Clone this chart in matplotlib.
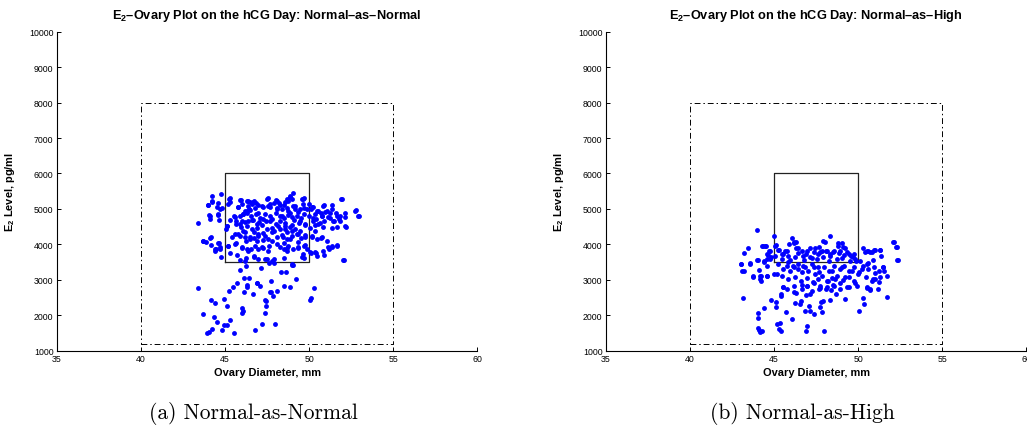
import matplotlib
matplotlib.use("Agg")
import matplotlib.pyplot as plt
import numpy as np

plt.rcParams["font.family"] = ["Liberation Sans", "DejaVu Sans"]
plt.rcParams["mathtext.fontset"] = "custom"
plt.rcParams["mathtext.rm"] = "Liberation Sans:bold"
plt.rcParams["mathtext.bf"] = "Liberation Sans:bold"

# (ovary diameter mm, E2 pg/ml)
normal_as_normal = [
    # left of the box
    (44.20, 5351), (44.78, 5417), (44.24, 5192), (43.98, 5098), (44.56, 5173), (44.80, 5013),
    (44.06, 4834), (44.10, 4703), (44.60, 4834), (44.66, 4684), (43.37, 4609), (43.67, 4082),
    (43.84, 4054), (44.12, 4176), (44.62, 4045), (44.18, 3979), (44.46, 3857), (44.42, 3810),
    (44.72, 3876), (44.74, 3650), (45.16, 3951), (45.24, 5267), (45.10, 4515), (45.08, 4440),
    (44.21, 5214), (44.01, 5120), (44.50, 5064), (44.70, 4998), (44.11, 4810), (44.60, 4857),
    (43.71, 4086), (44.17, 4199), (44.60, 4030), (44.40, 3870), (44.70, 3936),
    # lower tail
    (43.39, 2773), (44.19, 2443), (44.38, 2349), (43.71, 2028), (44.94, 2462), (45.10, 2254),
    (45.24, 2688), (45.50, 2801), (45.71, 2914), (46.11, 2650), (46.33, 2858), (46.33, 2792),
    (46.65, 2603), (46.90, 2914), (47.10, 2820), (47.38, 2443), (47.46, 2396), (47.44, 2273),
    (47.36, 2056), (47.72, 2650), (47.88, 2556), (47.66, 2669), (47.76, 2980), (48.12, 2697),
    (48.51, 2820), (48.87, 2801), (49.25, 3027), (50.06, 2433), (50.14, 2480), (50.28, 2773),
    (44.37, 1952), (44.54, 1802), (44.96, 1726), (45.12, 1726), (45.30, 1858), (44.80, 1585),
    (44.21, 1613), (43.93, 1490), (44.07, 1519), (45.52, 1500), (45.99, 2066), (46.07, 2122),
    (46.01, 2198), (46.77, 1575), (47.22, 1764), (47.96, 1754),
    (45.90, 3283), (46.24, 3387), (46.43, 3039), (47.15, 3340), (48.33, 3218), (48.63, 3227),
    (49.00, 3415), (49.04, 3424), (47.94, 3481), (47.62, 3462), (46.12, 3039), (46.89, 2917),
    # main cluster
    (49.04, 5436), (48.84, 5361), (48.69, 5286), (48.98, 5267), (48.76, 5220), (49.62, 5267),
    (49.72, 5295), (48.03, 5248), (48.11, 5220), (47.57, 5314), (46.71, 5220), (46.51, 5192),
    (46.33, 5220), (45.96, 5248), (51.93, 5267), (50.88, 5098), (51.39, 5117), (50.02, 5145),
    (50.24, 5060), (46.61, 5126), (46.85, 5154), (46.99, 5098), (46.39, 5079), (46.45, 4985),
    (46.20, 4938), (47.29, 5060), (47.53, 5079), (47.69, 5126), (47.89, 5154), (48.21, 5173),
    (48.49, 5098), (48.69, 5032), (49.06, 5079), (49.18, 4985), (49.48, 5004), (49.68, 5032),
    (49.88, 5004), (50.14, 4985), (50.48, 4938), (50.74, 4891), (51.08, 4938), (51.27, 4891),
    (51.61, 4872), (51.83, 4797), (52.17, 4891), (52.77, 4957), (52.97, 4797), (48.09, 5032),
    (48.39, 4985), (45.80, 5060), (45.54, 4797), (45.90, 4797), (46.10, 4844), (46.29, 4872),
    (46.53, 4797), (46.85, 4844), (47.09, 4750), (47.39, 4844), (47.65, 4797), (47.79, 4703),
    (48.01, 4872), (48.25, 4797), (48.49, 4750), (48.73, 4816), (48.88, 4891), (49.28, 4797),
    (49.52, 4750), (49.68, 4844), (49.98, 4797), (50.24, 4750), (50.44, 4703), (50.78, 4797),
    (50.92, 4656), (51.24, 4750), (51.51, 4656), (51.77, 4703), (45.66, 4656), (45.30, 4684),
    (46.00, 4656), (46.39, 4656), (46.65, 4684), (47.05, 4628), (47.45, 4656), (48.29, 4656),
    (48.59, 4609), (49.08, 4684), (49.38, 4609), (45.66, 4562), (45.94, 4496), (46.29, 4515),
    (46.59, 4421), (46.89, 4468), (47.19, 4534), (47.49, 4421), (47.79, 4468), (48.05, 4562),
    (48.29, 4421), (48.59, 4515), (48.88, 4496), (49.18, 4440), (49.48, 4374), (49.78, 4534),
    (50.08, 4468), (50.38, 4534), (50.64, 4590), (50.84, 4496), (51.39, 4459), (52.19, 4487),
    (46.10, 4374), (46.73, 4346), (47.29, 4327), (47.89, 4374), (48.69, 4346), (48.98, 4534),
    (45.62, 4280), (45.90, 4233), (46.20, 4214), (46.49, 4158), (46.73, 4186), (46.99, 4233),
    (47.25, 4120), (47.53, 4158), (47.79, 4092), (48.09, 4214), (48.39, 4252), (48.69, 4139),
    (48.98, 4233), (49.28, 4280), (49.52, 4186), (49.78, 4252), (50.18, 4214), (50.48, 4158),
    (50.72, 4186), (51.08, 4092), (46.25, 4092), (46.89, 4092), (48.49, 4045), (45.66, 4026),
    (46.00, 3932), (46.33, 3876), (46.53, 3857), (46.99, 3876), (47.29, 3904), (47.59, 3951),
    (48.09, 3998), (48.53, 3876), (48.69, 3904), (49.02, 3876), (49.32, 3885), (49.68, 3951),
    (49.78, 3970), (49.88, 3876), (50.44, 3763), (50.88, 3688), (51.18, 3857), (51.37, 3932),
    (51.67, 3951), (52.07, 3547), (45.90, 3556), (46.20, 3528), (46.73, 3650), (46.99, 3575),
    (47.39, 3575), (47.79, 3528), (47.93, 3594), (48.49, 3622), (48.98, 3434), (49.58, 3650),
    (49.72, 3622), (50.12, 3744), (45.30, 3744), (45.70, 3697),
    (45.10, 4528), (45.16, 3964), (45.16, 5139), (45.30, 5308), (45.30, 5186), (45.79, 5064),
    (45.99, 5139), (45.89, 5252), (46.39, 5233), (46.69, 5186), (46.09, 4857), (46.29, 4932),
    (46.49, 4970), (46.78, 5026), (46.98, 4876), (47.18, 5092), (47.48, 5280), (47.68, 5045),
    (45.60, 4763), (45.89, 4575), (46.19, 4622), (46.59, 4688), (46.88, 4575), (47.28, 4716),
    (47.68, 4669), (45.79, 4293), (46.19, 4340), (46.49, 4199), (46.98, 4293), (47.38, 4246),
    (47.78, 4340), (45.60, 4011), (45.99, 3898), (46.39, 3823), (46.78, 3964), (47.18, 3917),
    (47.58, 3823), (45.40, 4199), (46.23, 3616), (46.74, 3682), (47.48, 3588),
    (48.87, 5327), (48.57, 5186), (48.27, 5120), (48.08, 4998), (49.56, 5280), (49.66, 5139),
    (49.17, 5092), (48.77, 4951), (49.37, 4904), (48.37, 4810), (48.97, 4763), (49.47, 4669),
    (49.77, 4575), (48.17, 4528), (48.57, 4434), (48.97, 4387), (49.37, 4293), (48.47, 4199),
    (48.87, 4152), (49.37, 4058), (49.77, 4199), (48.27, 3917), (48.77, 3964), (48.67, 3823),
    (49.37, 3917), (49.67, 3729), (50.16, 5045), (50.36, 4857), (50.56, 4951), (50.76, 4810),
    (50.95, 4904), (51.15, 4763), (50.86, 5092), (51.35, 4998), (51.65, 4810), (51.84, 4669),
    (51.94, 5280), (52.14, 4763), (52.73, 4951), (52.93, 4810), (50.26, 4669), (50.56, 4575),
    (50.36, 4387), (50.76, 4199), (50.16, 4246), (51.45, 4669), (51.65, 4481), (52.14, 4509),
    (51.15, 3917), (51.35, 3964), (51.65, 3992), (50.86, 3804), (50.36, 3776), (50.06, 3776),
    (52.04, 3560), (50.46, 3682),
]

normal_as_high = [
    # lower part
    (44.21, 2980), (43.16, 2481), (44.02, 2066), (44.02, 1915), (44.43, 2198), (44.02, 1632),
    (44.13, 1594), (44.17, 1519), (44.31, 1547), (44.81, 2433), (45.13, 2367), (45.09, 2226),
    (45.19, 1754), (45.37, 1773), (45.31, 1613), (45.41, 1566), (45.43, 2556), (45.43, 2603),
    (45.72, 2085), (46.06, 1896), (46.26, 2349), (46.60, 2414), (46.56, 2320), (46.85, 2132),
    (46.89, 2584), (46.99, 1707), (46.91, 1547), (47.07, 2273), (47.15, 2132), (47.35, 2037),
    (47.15, 2603), (47.71, 2226), (47.85, 2085), (47.81, 2367), (47.89, 2414), (47.99, 1566),
    (48.31, 2443), (48.41, 2726), (48.71, 2603), (49.22, 2462), (50.03, 2113), (50.27, 2490),
    (50.33, 2320), (50.53, 2763), (50.69, 2745), (51.19, 2745), (51.75, 2528), (45.56, 2792),
    (45.76, 2745), (46.16, 2669), (46.32, 2631), (46.66, 2867), (46.95, 2839), (47.35, 2914),
    (47.65, 2745), (47.75, 2820), (48.11, 2745), (48.48, 2858), (48.94, 2914), (49.44, 2792),
    (49.83, 2914), (50.83, 2980),
    # upper part
    (43.98, 4414), (45.02, 4226), (46.04, 4179), (46.31, 4076), (46.16, 4057), (45.90, 4010),
    (48.31, 4226), (48.03, 4076), (48.78, 4038), (49.08, 3916), (52.13, 4057), (52.29, 3916),
    (52.35, 3559), (51.33, 3841), (50.99, 3841), (50.60, 3822), (50.84, 3775), (50.40, 3775),
    (43.45, 3888), (43.23, 3756), (43.01, 3446), (43.21, 3258), (43.55, 3465), (43.98, 3559),
    (44.30, 3963), (44.44, 3963), (44.60, 3728), (44.72, 3822), (44.76, 3587), (44.42, 3493),
    (44.56, 3399), (44.08, 3286), (44.20, 3117), (43.76, 3098), (44.60, 3098), (45.04, 3963),
    (45.28, 3850), (45.56, 3728), (45.76, 3822), (46.41, 3888), (46.65, 3822), (46.91, 3728),
    (47.15, 3888), (47.39, 3775), (47.65, 3916), (47.75, 3775), (48.11, 3822), (48.35, 3728),
    (48.59, 3822), (48.84, 3756), (49.14, 3700), (49.34, 3775), (49.58, 3681), (49.78, 3728),
    (45.46, 3587), (45.96, 3568), (46.25, 3634), (46.79, 3568), (47.25, 3606), (47.55, 3587),
    (47.91, 3634), (48.25, 3540), (48.75, 3587), (49.04, 3606), (49.50, 3540), (49.84, 3587),
    (50.14, 3540), (50.54, 3446), (50.94, 3352), (51.24, 3258), (51.49, 3352), (51.73, 3117),
    (50.24, 3305), (45.76, 3399), (46.16, 3352), (46.45, 3305), (46.75, 3399), (47.05, 3258),
    (47.35, 3352), (47.65, 3211), (47.95, 3352), (48.25, 3258), (48.55, 3399), (48.90, 3305),
    (49.18, 3399), (49.44, 3258), (49.74, 3352), (50.04, 3211), (45.16, 3164), (45.46, 3098),
    (45.86, 3023), (46.25, 3070), (46.59, 2976), (46.95, 3042), (47.31, 2929), (47.59, 3023),
    (47.85, 3098), (48.15, 2976), (48.45, 3042), (48.75, 3098), (49.10, 3004), (49.44, 3070),
    (49.74, 2976), (49.94, 2816), (50.54, 2788), (50.70, 2722), (50.99, 3023), (51.24, 2948),
    (46.16, 2816), (46.65, 2741), (46.95, 2816), (47.25, 2694), (47.75, 2760), (48.15, 2788),
    (48.55, 2835), (48.94, 2741), (49.34, 2788), (45.56, 2788),
    (44.36, 3963), (44.50, 3963), (44.76, 3822), (44.66, 3709), (44.82, 3634), (44.56, 3587),
    (44.38, 3540), (43.04, 3446), (43.56, 3446), (44.03, 3559), (43.12, 3258), (43.77, 3089),
    (44.17, 3117), (44.17, 3023), (44.56, 3117), (45.02, 3164), (45.10, 3991), (45.26, 3841),
    (45.06, 3681), (45.46, 3728), (45.66, 3803), (45.86, 3681), (46.17, 4029), (46.29, 3897),
    (46.45, 3747), (46.75, 3681), (46.95, 3822), (47.15, 3653), (47.44, 3897), (47.64, 3728),
    (47.88, 3822), (47.94, 4104), (45.86, 3493), (46.15, 3399), (46.45, 3446), (46.85, 3371),
    (47.25, 3446), (47.64, 3352), (45.95, 3258), (46.65, 3211), (47.44, 3164), (45.26, 3446),
    (45.56, 3305),
    (49.07, 4029), (48.83, 3963), (48.93, 3822), (48.53, 3775), (48.13, 3822), (48.33, 3681),
    (49.23, 3897), (49.46, 3728), (49.72, 3634), (49.86, 3540), (50.32, 3897), (50.52, 3822),
    (50.72, 3775), (50.95, 3841), (51.31, 3841), (51.37, 3681), (50.91, 3559), (52.10, 4057),
    (52.24, 3935), (52.30, 3559), (50.58, 3465), (50.32, 3399), (50.62, 3305), (51.01, 3183),
    (51.51, 3352), (51.57, 3258), (51.31, 3089), (50.91, 3023), (50.46, 3070), (50.02, 3164),
    (48.43, 3258), (49.03, 3352), (49.62, 3258), (49.23, 3070), (48.63, 3023), (48.23, 2976),
]

titles = [r"$\mathbf{E_2}$–Ovary Plot on the hCG Day: Normal–as–Normal",
          r"$\mathbf{E_2}$–Ovary Plot on the hCG Day: Normal–as–High"]
captions = ["(a) Normal-as-Normal", "(b) Normal-as-High"]
x_ticks = [35, 40, 45, 50, 55, 60]
y_ticks = [1000, 2000, 3000, 4000, 5000, 6000, 7000, 8000, 9000, 10000]
outer_box = (40, 55, 1200, 8000)
inner_box = (45, 50, 3500, 6000)

fig = plt.figure(figsize=(10.27, 4.35), dpi=100)
lefts = [0.0555, 0.5901]
caption_x = [0.2465, 0.7815]

for i, pts in enumerate([normal_as_normal, normal_as_high]):
    ax = fig.add_axes([lefts[i], 0.1915, 0.409, 0.7333])
    d = np.array(pts)
    x0, x1, y0, y1 = outer_box
    ax.plot([x0, x1, x1, x0, x0], [y0, y0, y1, y1, y0], color="k", lw=0.7,
            dashes=(6, 3, 1.5, 3))
    x0, x1, y0, y1 = inner_box
    ax.plot([x0, x1, x1, x0, x0], [y0, y0, y1, y1, y0], color="#222222", lw=0.9)
    ax.plot(d[:, 0], d[:, 1], "o", color="#0000ff", ms=3.5, mec="none")

    ax.set_xlim(35, 60)
    ax.set_ylim(1000, 10000)
    ax.set_xticks(x_ticks)
    ax.set_yticks(y_ticks)
    ax.tick_params(direction="in", length=3, width=0.7, labelsize=6.3, pad=2.5)
    for s in ["top", "right"]:
        ax.spines[s].set_visible(False)
    for s in ["left", "bottom"]:
        ax.spines[s].set_linewidth(0.8)
    ax.set_title(titles[i], fontsize=9.2, fontweight="bold", pad=10)
    ax.set_xlabel("Ovary Diameter, mm", fontsize=7.9, fontweight="bold", labelpad=3)
    ax.set_ylabel(r"$\mathbf{E_2}$ Level, pg/ml", fontsize=7.9, fontweight="bold")
    ax.yaxis.set_label_coords(-0.095, 0.5)
    fig.text(caption_x[i], 0.05, captions[i], ha="center", va="center",
             fontsize=15.5, family="cmr10")

fig.savefig("out.png", dpi=100)
